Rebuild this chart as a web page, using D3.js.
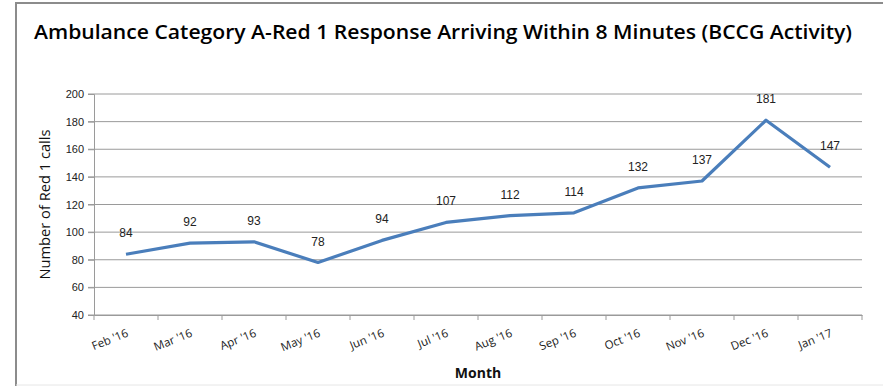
<!DOCTYPE html>
<html>
<head>
<meta charset="utf-8">
<script src="https://cdn.jsdelivr.net/npm/d3@7"></script>
<style>
  body { margin: 0; background: #fff; }
  svg { display: block; }
</style>
</head>
<body>
<svg width="883" height="386"></svg>
<script>
var months = ["Feb '16", "Mar '16", "Apr '16", "May '16", "Jun '16", "Jul '16",
              "Aug '16", "Sep '16", "Oct '16", "Nov '16", "Dec '16", "Jan '17"];
var calls = [84, 92, 93, 78, 94, 107, 112, 114, 132, 137, 181, 147];
var yTicks = [40, 60, 80, 100, 120, 140, 160, 180, 200];

var svg = d3.select("svg");
var pLeft = 94, pRight = 862, pTop = 94, pBottom = 315;

// outer frame
svg.append("path")
  .attr("d", "M16,386 V3 H883")
  .attr("fill", "none")
  .attr("stroke", "#8c8c8c")
  .attr("stroke-width", 2);
svg.append("line")
  .attr("x1", 16).attr("x2", 883).attr("y1", 385).attr("y2", 385)
  .attr("stroke", "#e6e6e6");

svg.append("text")
  .attr("x", 443).attr("y", 39)
  .attr("text-anchor", "middle")
  .style("font-family", "Open Sans, sans-serif")
  .style("font-weight", "600")
  .style("font-size", "20px")
  .attr("textLength", 818)
  .attr("lengthAdjust", "spacingAndGlyphs")
  .text("Ambulance Category A-Red 1 Response Arriving Within 8 Minutes (BCCG Activity)");

var x = d3.scaleBand().domain(months).range([pLeft, pRight]);
var y = d3.scaleLinear().domain([40, 200]).range([pBottom, pTop]);

// gridlines
svg.append("g")
  .selectAll("line")
  .data(yTicks)
  .enter().append("line")
  .attr("x1", pLeft - 6).attr("x2", pRight)
  .attr("y1", function(d) { return y(d); })
  .attr("y2", function(d) { return y(d); })
  .attr("stroke", "#9a9a9a")
  .attr("stroke-width", 1);

// y axis
var yAxis = svg.append("g")
  .attr("transform", "translate(" + pLeft + ",0)")
  .call(d3.axisLeft(y).tickValues(yTicks).tickSize(6).tickPadding(4));
yAxis.select(".domain").attr("stroke", "#9a9a9a");
yAxis.selectAll(".tick line").attr("stroke", "#9a9a9a");
yAxis.selectAll("text")
  .style("font-family", "Liberation Sans, Arial, sans-serif")
  .style("font-size", "11px")
  .attr("fill", "#222");

// x axis
var xAxis = svg.append("g")
  .attr("transform", "translate(0," + pBottom + ")")
  .call(d3.axisBottom(x).tickSize(0).tickFormat(""));
xAxis.select(".domain").attr("stroke", "#9a9a9a");

var edges = months.map(function(m) { return x(m); }).concat([pRight]);
svg.append("g")
  .selectAll("line")
  .data(edges)
  .enter().append("line")
  .attr("x1", function(d) { return d; }).attr("x2", function(d) { return d; })
  .attr("y1", pBottom).attr("y2", pBottom + 5)
  .attr("stroke", "#9a9a9a");

svg.append("g")
  .selectAll("text")
  .data(months)
  .enter().append("text")
  .attr("transform", function(d) {
    return "translate(" + (x(d) + x.bandwidth() / 2 + 3) + "," + (pBottom + 21) + ") rotate(-22)";
  })
  .attr("text-anchor", "end")
  .style("font-family", "Open Sans, sans-serif")
  .style("font-size", "11.5px")
  .attr("fill", "#222")
  .text(function(d) { return d; });

// axis titles
svg.append("text")
  .attr("transform", "translate(50," + ((pTop + pBottom) / 2) + ") rotate(-90)")
  .attr("text-anchor", "middle")
  .style("font-family", "Open Sans, sans-serif")
  .style("font-size", "15px")
  .attr("textLength", 150)
  .attr("lengthAdjust", "spacingAndGlyphs")
  .attr("fill", "#111")
  .text("Number of Red 1 calls");

svg.append("text")
  .attr("x", 478).attr("y", 378)
  .attr("text-anchor", "middle")
  .style("font-family", "Open Sans, sans-serif")
  .style("font-weight", "bold")
  .style("font-size", "14px")
  .attr("fill", "#111")
  .text("Month");

// line
var line = d3.line()
  .x(function(d, i) { return x(months[i]) + x.bandwidth() / 2; })
  .y(function(d) { return y(d); });

svg.append("path")
  .datum(calls)
  .attr("d", line)
  .attr("fill", "none")
  .attr("stroke", "#4a7ebb")
  .attr("stroke-width", 3.2)
  .attr("stroke-linejoin", "round");

svg.append("g")
  .selectAll("text")
  .data(calls)
  .enter().append("text")
  .attr("x", function(d, i) { return x(months[i]) + x.bandwidth() / 2; })
  .attr("y", function(d) { return y(d) - 17; })
  .attr("text-anchor", "middle")
  .style("font-family", "Liberation Sans, Arial, sans-serif")
  .style("font-size", "12px")
  .attr("fill", "#222")
  .text(function(d) { return d; });
</script>
</body>
</html>
